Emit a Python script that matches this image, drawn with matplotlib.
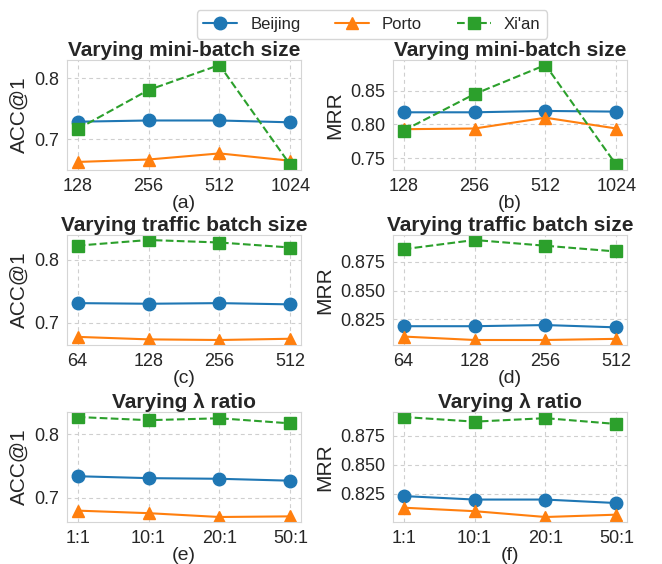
import matplotlib
matplotlib.use('Agg')
import matplotlib.pyplot as plt
import seaborn as sns

sns.set_style('whitegrid')
plt.rcParams['font.family'] = ['Liberation Sans', 'DejaVu Sans']

cidades = ['Beijing', 'Porto', "Xi'an"]
cores = ['#1f77b4', '#ff7f0e', '#2ca02c']
marcadores = ['o', '^', 's']
estilos = ['-', '-', '--']

# eixos x de cada linha
x_minibatch = ['128', '256', '512', '1024']
x_traffic = ['64', '128', '256', '512']
x_lambda = ['1:1', '10:1', '20:1', '50:1']

# (a) ACC@1 mini-batch
acc_minibatch = [
    [0.729, 0.731, 0.731, 0.728],
    [0.663, 0.667, 0.677, 0.665],
    [0.717, 0.781, 0.822, 0.658],
]
# (b) MRR mini-batch
mrr_minibatch = [
    [0.818, 0.818, 0.820, 0.819],
    [0.793, 0.794, 0.810, 0.794],
    [0.791, 0.845, 0.888, 0.740],
]
# (c) ACC@1 traffic batch
acc_traffic = [
    [0.731, 0.730, 0.731, 0.729],
    [0.677, 0.673, 0.672, 0.674],
    [0.823, 0.832, 0.828, 0.820],
]
# (d) MRR traffic batch
mrr_traffic = [
    [0.819, 0.819, 0.820, 0.818],
    [0.810, 0.807, 0.807, 0.808],
    [0.886, 0.894, 0.889, 0.884],
]
# (e) ACC@1 lambda
acc_lambda = [
    [0.734, 0.731, 0.730, 0.727],
    [0.680, 0.676, 0.670, 0.671],
    [0.827, 0.822, 0.825, 0.817],
]
# (f) MRR lambda
mrr_lambda = [
    [0.823, 0.820, 0.820, 0.817],
    [0.813, 0.810, 0.805, 0.807],
    [0.891, 0.887, 0.890, 0.885],
]

paineis = [
    ('Varying mini-batch size', 'ACC@1', '(a)', x_minibatch, acc_minibatch),
    ('Varying mini-batch size', 'MRR', '(b)', x_minibatch, mrr_minibatch),
    ('Varying traffic batch size', 'ACC@1', '(c)', x_traffic, acc_traffic),
    ('Varying traffic batch size', 'MRR', '(d)', x_traffic, mrr_traffic),
    ('Varying λ ratio', 'ACC@1', '(e)', x_lambda, acc_lambda),
    ('Varying λ ratio', 'MRR', '(f)', x_lambda, mrr_lambda),
]

W, H = 662, 564
fig = plt.figure(figsize=(W / 100, H / 100), dpi=100)

# posições em pixels (esquerda, topo, largura, altura)
lefts = [67, 393]
tops = [60, 235, 412]
larg, alt = 234, 110

handles = []
for k, (titulo, ylab, sub, xt, dados) in enumerate(paineis):
    lin, col = k // 2, k % 2
    ax = fig.add_axes([lefts[col] / W, 1 - (tops[lin] + alt) / H, larg / W, alt / H])
    ax.grid(True, linestyle=(0, (3.5, 3)), linewidth=0.8, color='#cfcfcf')
    for s in ax.spines.values():
        s.set_color('#d5d5d5')
    pos = range(len(xt))
    for i in range(3):
        h, = ax.plot(pos, dados[i], color=cores[i], marker=marcadores[i],
                     linestyle=estilos[i], linewidth=1.5, markersize=9,
                     label=cidades[i])
        if k == 0:
            handles.append(h)
    ax.set_xticks(list(pos))
    ax.set_xticklabels(xt)
    ax.set_title(titulo, fontsize=15, fontweight='bold', pad=3)
    ax.set_ylabel(ylab, fontsize=15)
    ax.set_xlabel(sub, fontsize=14, labelpad=0)
    ax.tick_params(labelsize=13, pad=2)
    if ylab == 'MRR':
        if k == 1:
            ax.set_yticks([0.75, 0.80, 0.85])
            ax.set_yticklabels(['0.75', '0.80', '0.85'])
        else:
            ax.set_yticks([0.825, 0.850, 0.875])
            ax.set_yticklabels(['0.825', '0.850', '0.875'])
    else:
        ax.set_yticks([0.7, 0.8])

fig.legend(handles=handles, loc='upper center', ncol=3, fontsize=12,
           bbox_to_anchor=(372 / W, 1 - 2 / H), frameon=True,
           columnspacing=2.1)

fig.savefig('out.png', dpi=100)
